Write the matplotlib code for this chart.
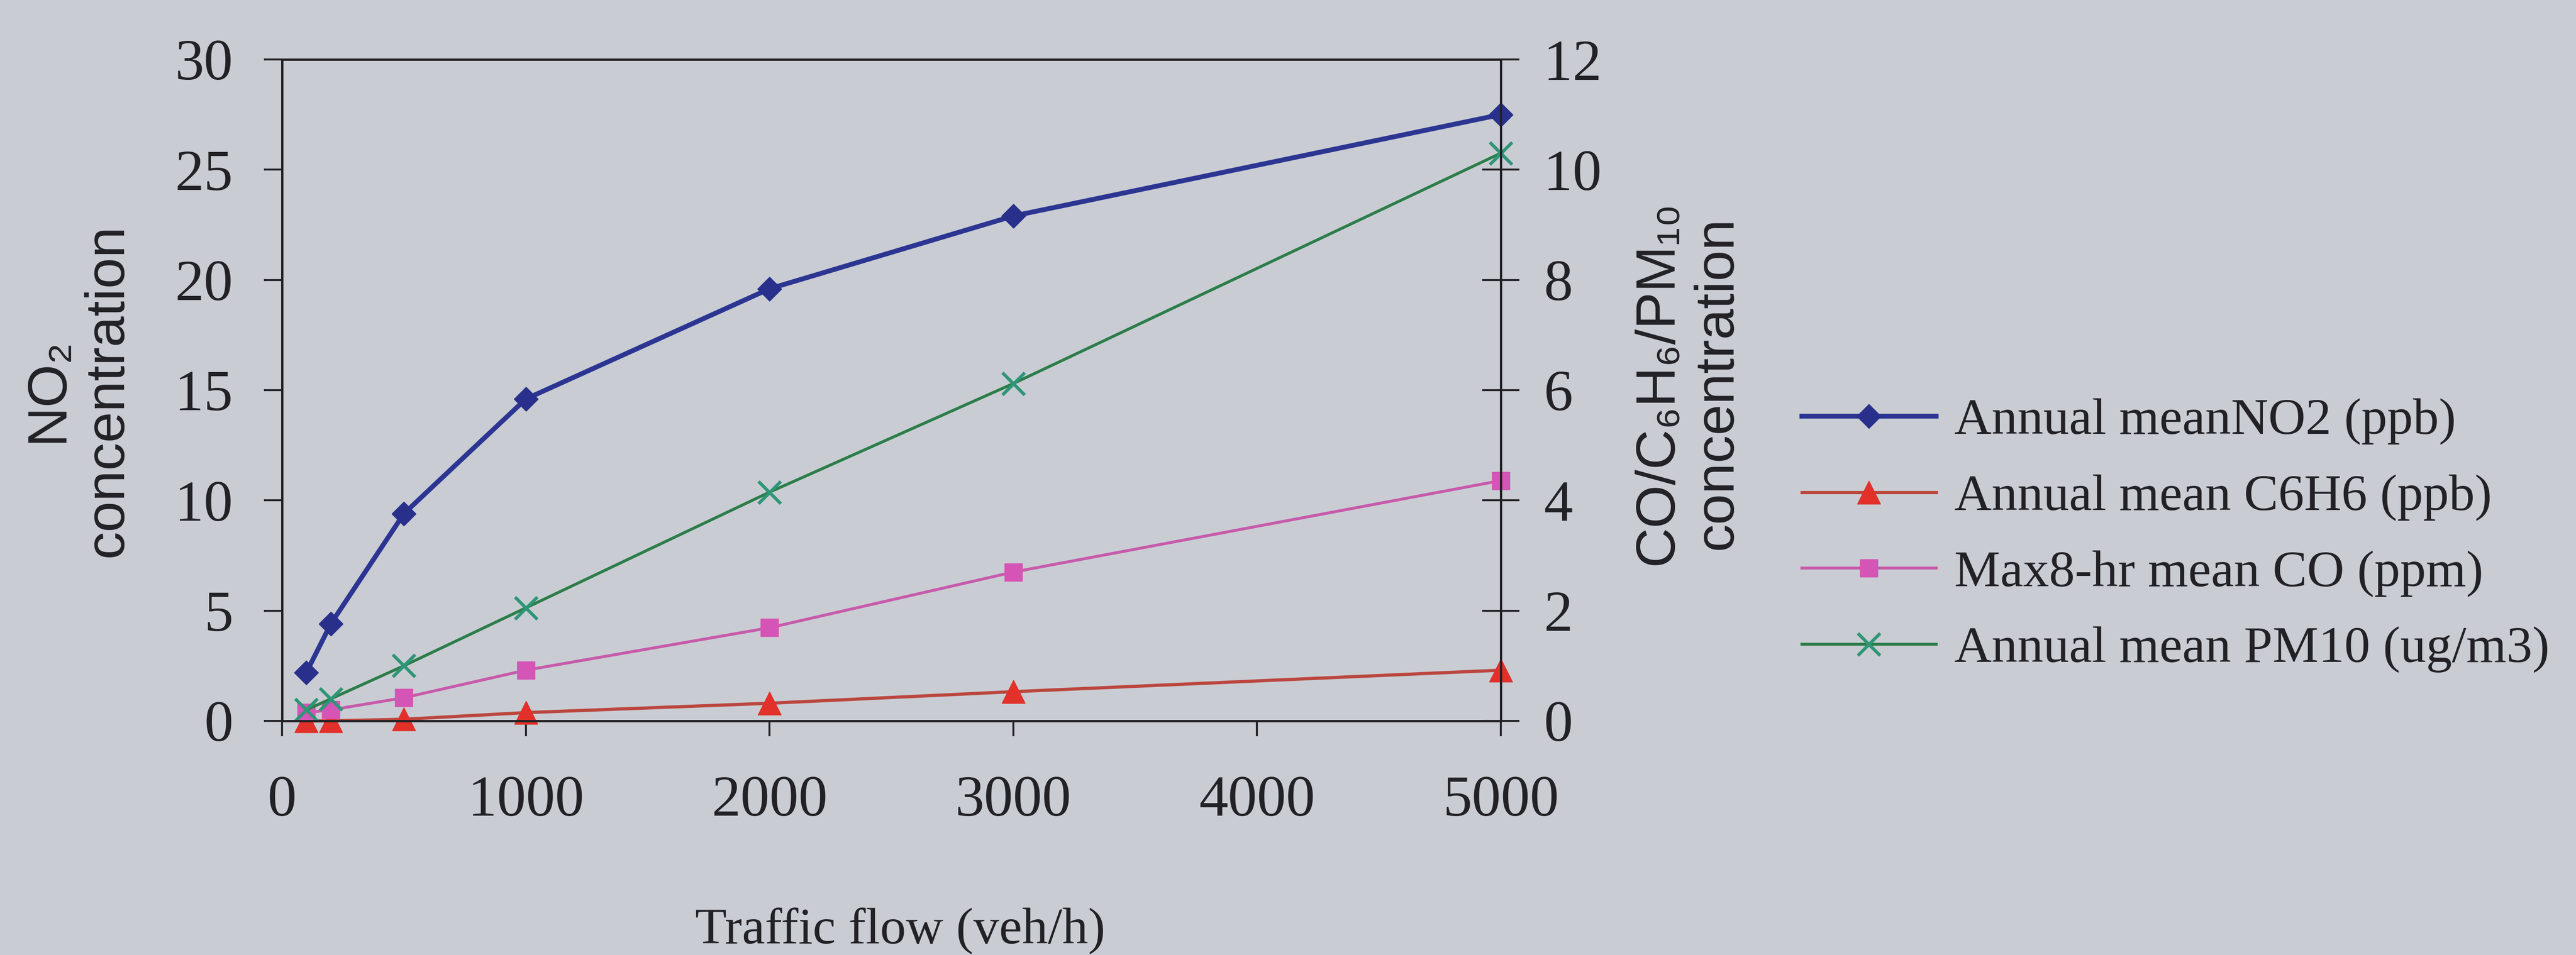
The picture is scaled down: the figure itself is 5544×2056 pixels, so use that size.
import matplotlib
matplotlib.use('Agg')
import matplotlib.pyplot as plt

# traffic flow (veh/h)
flow = [100, 200, 500, 1000, 2000, 3000, 5000]

# left axis
no2 = [2.2, 4.4, 9.4, 14.6, 19.6, 22.9, 27.5]
# right axis
c6h6 = [0.0, 0.0, 0.03, 0.15, 0.32, 0.53, 0.92]
co = [0.15, 0.2, 0.42, 0.92, 1.69, 2.70, 4.36]
pm10 = [0.2, 0.4, 1.0, 2.05, 4.15, 6.12, 10.3]

labels = ['Annual meanNO2 (ppb)', 'Annual mean C6H6 (ppb)',
          'Max8-hr mean CO (ppm)', 'Annual mean PM10 (ug/m3)']

left_ticks = [0, 5, 10, 15, 20, 25, 30]
right_ticks = [0, 2, 4, 6, 8, 10, 12]
x_ticks = [0, 1000, 2000, 3000, 4000, 5000]

BG = '#c9cdd3'
INK = '#222226'
SERIF = 'Liberation Serif'
SANS = ['Liberation Sans', 'DejaVu Sans']

W, H = 5544, 2056
fig = plt.figure(figsize=(W / 100, H / 100), dpi=100, facecolor=BG)
ax = fig.add_axes([607 / W, 1 - 1552 / H, (3230 - 607) / W, (1552 - 128) / H])
ax.set_facecolor(BG)
ax2 = ax.twinx()

ax.plot(flow, no2, color='#2c3592', lw=7.5, marker='D', ms=26,
        mfc='#28308c', mec='#28308c', clip_on=False, zorder=5, label=labels[0])
l1, = ax2.plot(flow, c6h6, color='#bb463e', lw=5, marker='^', ms=36,
               mfc='#e2302a', mec='#e2302a', clip_on=False, label=labels[1])
l2, = ax2.plot(flow, co, color='#c75aab', lw=4.5, marker='s', ms=27,
               mfc='#d455b5', mec='#d455b5', clip_on=False, label=labels[2])
l3, = ax2.plot(flow, pm10, color='#2c7d4a', lw=4.5, marker='x', ms=34, mew=5,
               mec='#2f9577', clip_on=False, label=labels[3])

ax.set_xlim(0, 5000)
ax.set_ylim(0, 30)
ax2.set_ylim(0, 12)
ax.set_xticks(x_ticks)
ax.set_yticks(left_ticks)
ax2.set_yticks(right_ticks)

for a in (ax, ax2):
    for s in a.spines.values():
        s.set_linewidth(3.5)
        s.set_color(INK)

ax.tick_params(axis='y', direction='out', length=28, width=3, pad=48,
               labelsize=90, colors=INK)
ax.tick_params(axis='x', direction='out', length=24, width=3, pad=60,
               labelsize=90, colors=INK)
ax2.tick_params(axis='y', direction='inout', length=57, width=3, pad=38,
                labelsize=90, colors=INK)
for lab in ax.get_xticklabels() + ax.get_yticklabels() + ax2.get_yticklabels():
    lab.set_fontfamily(SERIF)

# axis titles
fig.text(168 / W, 1 - 840 / H, 'NO\u2082\nconcentration', rotation=90,
         ha='center', va='center', multialignment='center', fontsize=86,
         family=SANS, color=INK, linespacing=1.2)
fig.text(3632 / W, 1 - 824 / H, 'CO/C\u2086H\u2086/PM\u2081\u2080\nconcentration',
         rotation=90, ha='center', va='center', multialignment='center',
         fontsize=86, family=SANS, color=INK, linespacing=1.2)
fig.text(1937 / W, 1 - 2030 / H, 'Traffic flow (veh/h)', ha='center',
         va='baseline', fontsize=80, family=SERIF, color=INK)

handles = [ax.get_lines()[0], l1, l2, l3]
fig.legend(handles, labels, loc='center left', bbox_to_anchor=(3878 / W, 1 - 1153 / H),
           frameon=False, borderpad=0, borderaxespad=0, handlelength=2.6,
           handletextpad=0.35, labelspacing=0.56,
           prop={'family': SERIF, 'size': 80}, labelcolor=INK)

fig.savefig('out.png', dpi=100, facecolor=BG)
